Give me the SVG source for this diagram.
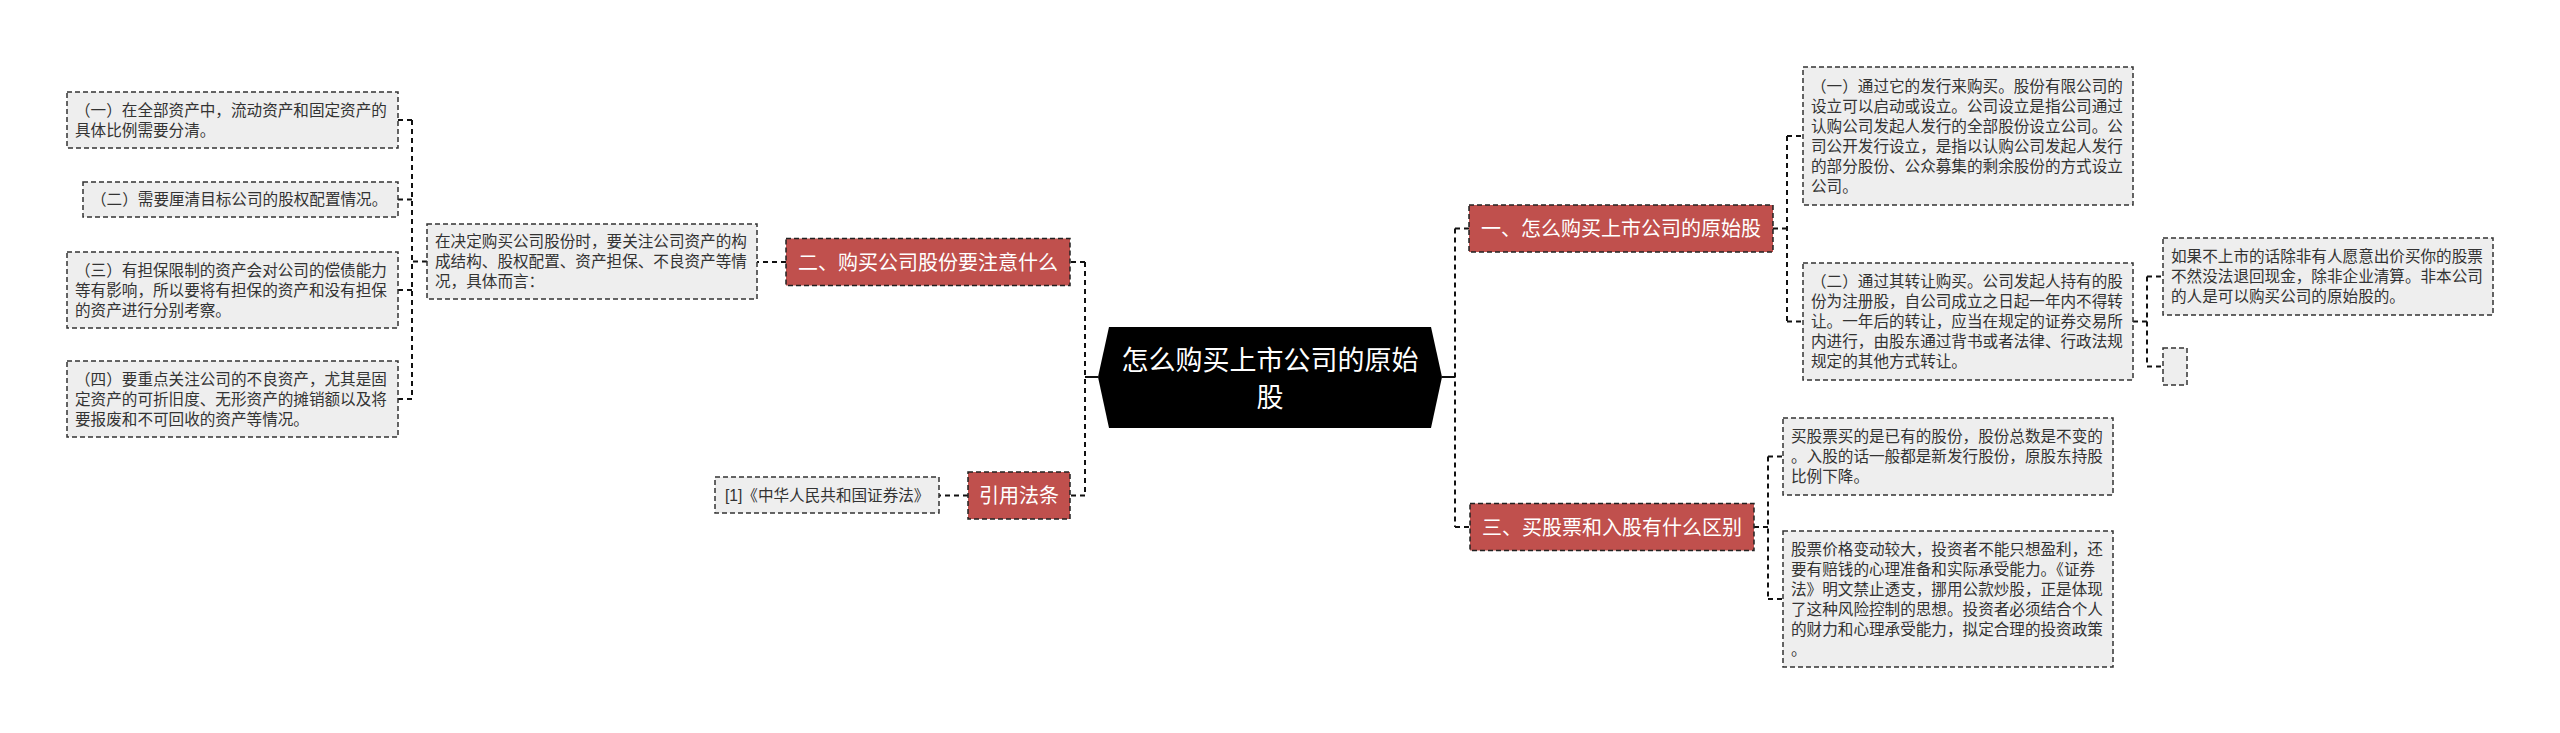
<svg xmlns="http://www.w3.org/2000/svg" width="2560" height="733" viewBox="0 0 2560 733">
<style>
text{font-family:"Liberation Sans","Noto Sans CJK SC",sans-serif;}
.leaf rect{fill:#eeeeee;stroke:#333;stroke-width:1.5;stroke-dasharray:5 3;}
.leaf text{font-size:15.6px;fill:#333;}
.red rect{fill:#c0504d;stroke:#222;stroke-width:1.5;stroke-dasharray:5 3;}
.red text{font-size:20px;fill:#fff;text-anchor:middle;}
.conn path{fill:none;stroke:#111;stroke-width:2;stroke-dasharray:5 4;}
.conn path.solid{stroke-dasharray:none;}
</style>
<rect width="2560" height="733" fill="#fff"/>
<g class="conn" id="connectors">
<path class="solid" d="M1098,377H1085"/>
<path d="M1085,262V495.5M1085,262H1070M1085,495.5H1070"/>
<path d="M786,262H757"/>
<path d="M427,261.5H412M412,120V399M412,120H398M412,199.5H398M412,290H398M412,399H398"/>
<path d="M968,495.5H939"/>
<path class="solid" d="M1442,377H1455"/>
<path d="M1455,228.5V527M1455,228.5H1469M1455,527H1470"/>
<path d="M1773,228.5H1787M1787,136V321.5M1787,136H1803M1787,321.5H1803"/>
<path d="M2133,321.5H2147M2147,276.5V366.5M2147,276.5H2163M2147,366.5H2163"/>
<path d="M1754,527H1768M1768,456.5V599M1768,456.5H1783M1768,599H1783"/>
</g>
<g id="center">
<polygon points="1098,377 1109,327 1431,327 1442,377 1431,428 1109,428" fill="#000"/>
<text x="1270" y="369.5" font-size="27" fill="#fff" text-anchor="middle">怎么购买上市公司的原始</text>
<text x="1270" y="407" font-size="27" fill="#fff" text-anchor="middle">股</text>
</g>
<g id="n2" class="red"><rect x="786" y="238.5" width="284" height="47"/><text x="928" y="269.5">二、购买公司股份要注意什么</text></g>
<g id="nref" class="red"><rect x="968" y="472" width="102" height="47"/><text x="1019" y="503">引用法条</text></g>
<g id="n1" class="red"><rect x="1469" y="205" width="304" height="47"/><text x="1621" y="236">一、怎么购买上市公司的原始股</text></g>
<g id="n3" class="red"><rect x="1470" y="503.5" width="284" height="47"/><text x="1612" y="534.5">三、买股票和入股有什么区别</text></g>
<g id="n2c" class="leaf"><rect x="427" y="224" width="330" height="75"/>
<text x="435" y="247">在决定购买公司股份时，要关注公司资产的构</text>
<text x="435" y="267">成结构、股权配置、资产担保、不良资产等情</text>
<text x="435" y="287">况，具体而言：</text></g>
<g id="l1" class="leaf"><rect x="67" y="92" width="331" height="56"/>
<text x="75" y="115.5">（一）在全部资产中，流动资产和固定资产的</text>
<text x="75" y="135.5">具体比例需要分清。</text></g>
<g id="l2" class="leaf"><rect x="83" y="182" width="315" height="35"/>
<text x="91" y="205">（二）需要厘清目标公司的股权配置情况。</text></g>
<g id="l3" class="leaf"><rect x="67" y="252" width="331" height="76"/>
<text x="75" y="275.5">（三）有担保限制的资产会对公司的偿债能力</text>
<text x="75" y="295.5">等有影响，所以要将有担保的资产和没有担保</text>
<text x="75" y="315.5">的资产进行分别考察。</text></g>
<g id="l4" class="leaf"><rect x="67" y="361" width="331" height="76"/>
<text x="75" y="384.5">（四）要重点关注公司的不良资产，尤其是固</text>
<text x="75" y="404.5">定资产的可折旧度、无形资产的摊销额以及将</text>
<text x="75" y="424.5">要报废和不可回收的资产等情况。</text></g>
<g id="ref" class="leaf"><rect x="715" y="477" width="224" height="36"/>
<text x="725" y="500.5">[1]《中华人民共和国证券法》</text></g>
<g id="r11" class="leaf"><rect x="1803" y="67" width="330" height="138"/>
<text x="1811" y="91.5">（一）通过它的发行来购买。股份有限公司的</text>
<text x="1811" y="111.5">设立可以启动或设立。公司设立是指公司通过</text>
<text x="1811" y="131.5">认购公司发起人发行的全部股份设立公司。公</text>
<text x="1811" y="151.5">司公开发行设立，是指以认购公司发起人发行</text>
<text x="1811" y="171.5">的部分股份、公众募集的剩余股份的方式设立</text>
<text x="1811" y="191.5">公司。</text></g>
<g id="r12" class="leaf"><rect x="1803" y="263" width="330" height="117"/>
<text x="1811" y="287">（二）通过其转让购买。公司发起人持有的股</text>
<text x="1811" y="307">份为注册股，自公司成立之日起一年内不得转</text>
<text x="1811" y="327">让。一年后的转让，应当在规定的证券交易所</text>
<text x="1811" y="347">内进行，由股东通过背书或者法律、行政法规</text>
<text x="1811" y="367">规定的其他方式转让。</text></g>
<g id="r121" class="leaf"><rect x="2163" y="238" width="330" height="77"/>
<text x="2171" y="262">如果不上市的话除非有人愿意出价买你的股票</text>
<text x="2171" y="282">不然没法退回现金，除非企业清算。非本公司</text>
<text x="2171" y="302">的人是可以购买公司的原始股的。</text></g>
<g id="r122" class="leaf"><rect x="2163" y="348" width="24" height="37"/></g>
<g id="r31" class="leaf"><rect x="1783" y="418" width="330" height="77"/>
<text x="1791" y="442">买股票买的是已有的股份，股份总数是不变的</text>
<text x="1791" y="462">。入股的话一般都是新发行股份，原股东持股</text>
<text x="1791" y="482">比例下降。</text></g>
<g id="r32" class="leaf"><rect x="1783" y="531" width="330" height="136"/>
<text x="1791" y="555">股票价格变动较大，投资者不能只想盈利，还</text>
<text x="1791" y="575">要有赔钱的心理准备和实际承受能力。《证券</text>
<text x="1791" y="595">法》明文禁止透支，挪用公款炒股，正是体现</text>
<text x="1791" y="615">了这种风险控制的思想。投资者必须结合个人</text>
<text x="1791" y="635">的财力和心理承受能力，拟定合理的投资政策</text>
<text x="1791" y="655">。</text></g>
</svg>
